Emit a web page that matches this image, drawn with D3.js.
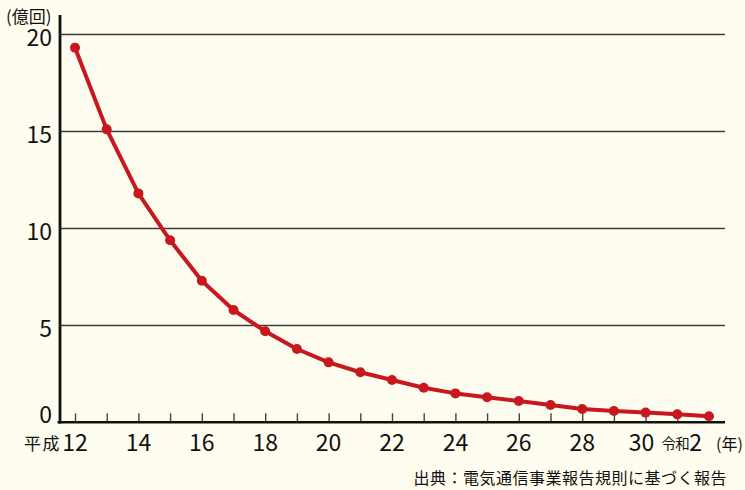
<!DOCTYPE html>
<html>
<head>
<meta charset="utf-8">
<script src="https://cdn.jsdelivr.net/npm/d3@7"></script>
<style>
  html, body { margin: 0; padding: 0; background: #FFFDEF; }
  svg { display: block; }
  text { font-family: "Noto Sans CJK JP", "Noto Sans", sans-serif; fill: #111; }
</style>
</head>
<body>
<svg id="chart" width="745" height="490"></svg>
<script>
// 年度（平成12年〜令和2年＝平成32年相当）
const years = [12, 13, 14, 15, 16, 17, 18, 19, 20, 21, 22, 23, 24, 25, 26, 27, 28, 29, 30, 31, 32];
// 回数（億回）
const calls = [19.31, 15.10, 11.80, 9.38, 7.30, 5.79, 4.69, 3.78, 3.09, 2.58, 2.18, 1.78, 1.49, 1.29, 1.10, 0.89, 0.69, 0.58, 0.50, 0.41, 0.31];
// 目盛
const yTicks = [0, 5, 10, 15, 20];
const xLabelYears = [12, 14, 16, 18, 20, 22, 24, 26, 28, 30, 32];
const xLabels = ["12", "14", "16", "18", "20", "22", "24", "26", "28", "30", "2"];
const yUnit = "(億回)";
const xUnit = "(年)";
const eraStart = "平成";
const eraEnd = "令和";
const sourceNote = "出典：電気通信事業報告規則に基づく報告";

const svg = d3.select("#chart");
const W = 745, H = 490;
svg.append("rect").attr("width", W).attr("height", H).attr("fill", "#FFFDEF");

const x = d3.scaleLinear().domain([12, 32]).range([75, 709]);
const y = d3.scaleLinear().domain([0, 20]).range([422.3, 34.3]);
const axisLeft = 60, axisRight = 725;
const red = "#C8171F";

// 横グリッド線
const grid = svg.append("g");
yTicks.filter(v => v > 0).forEach(v => {
  grid.append("line")
    .attr("x1", axisLeft).attr("x2", axisRight)
    .attr("y1", y(v) + 1).attr("y2", y(v) + 1)
    .attr("stroke", "#c9c6b8").attr("stroke-width", 1);
  grid.append("line")
    .attr("x1", axisLeft).attr("x2", axisRight)
    .attr("y1", y(v)).attr("y2", y(v))
    .attr("stroke", "#3a3a3a").attr("stroke-width", 1.3);
});

// 年ごとの目盛線
svg.append("g")
  .attr("transform", `translate(0,${y(0)})`)
  .call(d3.axisBottom(x).tickValues(years).tickSize(-9).tickFormat(""))
  .call(g => g.select(".domain").remove())
  .call(g => g.selectAll(".tick line").attr("stroke", "#444").attr("stroke-width", 1.4));

// 軸線
svg.append("line")
  .attr("x1", 57.5).attr("x2", axisRight)
  .attr("y1", y(0)).attr("y2", y(0))
  .attr("stroke", "#111").attr("stroke-width", 2.5);
svg.append("line")
  .attr("x1", axisLeft).attr("x2", axisLeft)
  .attr("y1", 15).attr("y2", y(0) + 1.2)
  .attr("stroke", "#111").attr("stroke-width", 2.8);

// 縦軸ラベル
svg.append("g").selectAll("text")
  .data(yTicks).join("text")
  .attr("x", 52)
  .attr("y", d => Math.min(y(d) + 11.5, y(0) + 0.5))
  .attr("text-anchor", "end")
  .attr("font-size", 23)
  .text(d => d);

svg.append("text")
  .attr("x", 6).attr("y", 22.5)
  .attr("font-size", 17)
  .text(yUnit);

// 横軸ラベル（末尾は元号表記のため左寄せ）
const xl = svg.append("g");
xLabelYears.forEach((yr, i) => {
  const last = i === xLabelYears.length - 1;
  const nudge = last ? -7 : (i === xLabelYears.length - 2 ? -4 : 0);
  xl.append("text")
    .attr("x", x(yr) + nudge)
    .attr("y", 450.5)
    .attr("text-anchor", last ? "end" : "middle")
    .attr("font-size", 23)
    .text(xLabels[i]);
});
xl.append("text")
  .attr("x", 61).attr("y", 449.5)
  .attr("text-anchor", "end")
  .attr("font-size", 17)
  .attr("letter-spacing", 1.5)
  .text(eraStart);
xl.append("text")
  .attr("x", 689).attr("y", 448.5)
  .attr("text-anchor", "end")
  .attr("font-size", 14.5)
  .attr("letter-spacing", -0.8)
  .text(eraEnd);
xl.append("text")
  .attr("x", 716).attr("y", 450)
  .attr("font-size", 16)
  .text(xUnit);

// 折れ線
const line = d3.line().x((d, i) => x(years[i])).y(d => y(d));
svg.append("path")
  .datum(calls)
  .attr("d", line)
  .attr("fill", "none")
  .attr("stroke", red)
  .attr("stroke-width", 4)
  .attr("stroke-linejoin", "round");

svg.append("g").selectAll("circle")
  .data(calls).join("circle")
  .attr("cx", (d, i) => x(years[i]))
  .attr("cy", d => y(d))
  .attr("r", 5)
  .attr("fill", red);

// 出典
svg.append("text")
  .attr("x", 727).attr("y", 484)
  .attr("text-anchor", "end")
  .attr("font-size", 16)
  .attr("letter-spacing", 0.5)
  .text(sourceNote);
</script>
</body>
</html>
